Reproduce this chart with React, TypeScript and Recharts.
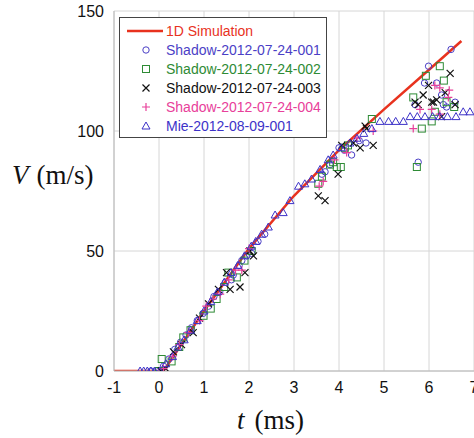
import { ComposedChart, Line, Scatter, XAxis, YAxis, CartesianGrid, Legend, Label } from 'recharts';

// 1D simulation curve
const simT = [-1, 0.1, 1, 2, 3, 4, 5, 6, 6.72];
const simV = [0, 0, 25, 51, 73, 92, 109, 125.5, 137.5];

// measured points [t (ms), V (m/s)]
const shadow001 = [
  [-0.18, 0], [-0.05, 0], [0.1, 2], [0.22, 5], [0.35, 9], [0.48, 12], [0.6, 15], [0.72, 18], [0.85, 21],
  [0.98, 24], [1.1, 27], [1.22, 31], [1.35, 33], [1.48, 37], [1.61, 38], [1.65, 40], [1.78, 44], [1.84, 46],
  [1.95, 48], [2.06, 49], [2.2, 54], [2.35, 57], [3.62, 82], [3.69, 83], [3.8, 86], [4.0, 93], [4.12, 92],
  [4.28, 90], [4.45, 96], [4.6, 95], [5.69, 111], [5.76, 87], [5.9, 120], [5.99, 127], [6.17, 120],
  [6.28, 115], [6.32, 111], [6.39, 110], [6.49, 134], [6.58, 112],
];
const shadow002 = [
  [0.0, 0], [0.06, 5], [0.28, 4], [0.45, 10], [0.54, 14], [0.7, 17], [0.99, 23], [1.15, 26], [1.28, 30],
  [1.45, 35], [1.54, 41], [1.73, 39], [1.9, 46], [2.06, 50], [3.54, 78], [3.62, 81], [3.8, 86], [3.87, 87],
  [3.95, 85], [4.04, 85], [4.13, 93], [4.2, 94], [4.73, 105], [5.65, 114], [5.73, 85], [5.84, 101],
  [5.93, 123], [6.06, 104], [6.13, 108], [6.24, 127], [6.33, 121], [6.39, 112], [6.56, 110],
];
const shadow003 = [
  [0.05, 0], [0.15, 1], [0.32, 8], [0.5, 11], [0.76, 16], [0.9, 22], [1.1, 28], [1.32, 34], [1.5, 41],
  [1.58, 34], [1.8, 35], [1.91, 41], [2.02, 50], [2.1, 48], [3.54, 73], [3.69, 71], [3.98, 82], [4.06, 94],
  [4.32, 95], [4.47, 93], [4.58, 102], [4.61, 101], [4.76, 94], [5.69, 112], [5.76, 111], [5.87, 115],
  [5.99, 119], [6.06, 112], [6.1, 112], [6.17, 113], [6.28, 106], [6.36, 116], [6.47, 124], [6.58, 111],
];
const shadow004 = [
  [0.1, 1], [0.3, 6], [0.45, 11], [0.65, 16], [0.9, 21], [1.05, 27], [1.2, 30], [1.36, 32], [1.55, 38],
  [1.7, 42], [1.84, 42], [2.0, 51], [3.56, 77], [3.65, 79], [3.9, 88], [4.17, 91], [4.4, 97], [4.76, 100],
  [5.65, 101], [5.8, 109], [6.06, 109], [6.13, 119], [6.24, 118], [6.24, 107], [6.43, 114], [6.45, 117],
];
const mie001 = [
  [-0.42, 0], [-0.34, 0], [-0.26, 0], [-0.18, 0], [-0.1, 0], [0.02, 0], [0.15, 3], [0.3, 6], [0.42, 10],
  [0.56, 13], [0.7, 17], [0.85, 21], [1.0, 25], [1.15, 29], [1.3, 33], [1.45, 37], [1.6, 41], [1.75, 44],
  [1.9, 48], [2.05, 52], [2.15, 54], [2.28, 57], [2.43, 60], [2.58, 65], [2.76, 66], [2.91, 71], [3.1, 77],
  [3.24, 78], [3.39, 80], [3.58, 84], [3.76, 88], [3.87, 90], [4.05, 93], [4.24, 95], [4.4, 97], [4.55, 99],
  [4.73, 101], [4.91, 104], [5.1, 104], [5.26, 104], [5.43, 104], [5.58, 106], [5.74, 106], [5.91, 106],
  [6.08, 106], [6.24, 106], [6.41, 106], [6.6, 106], [6.76, 108], [6.91, 108],
];

const xTicks = [-1, 0, 1, 2, 3, 4, 5, 6, 7];
const yTicks = [0, 50, 100, 150];

const toPts = (arr: number[][]) => arr.map(([t, v]) => ({ t, v }));
const simData = simT.map((t, i) => ({ t, v: simV[i] }));

const RED = '#e8321e';

const Circle = ({ cx, cy, color }: any) => <circle cx={cx} cy={cy} r={3.2} fill="none" stroke={color} strokeWidth={1} />;
const Square = ({ cx, cy, color }: any) => <rect x={cx - 3.5} y={cy - 3.5} width={7} height={7} fill="none" stroke={color} strokeWidth={1} />;
const Cross = ({ cx, cy, color }: any) => (
  <path d={`M${cx - 3.5},${cy - 3.5}L${cx + 3.5},${cy + 3.5}M${cx - 3.5},${cy + 3.5}L${cx + 3.5},${cy - 3.5}`} stroke={color} strokeWidth={1.2} />
);
const Plus = ({ cx, cy, color }: any) => (
  <path d={`M${cx - 4},${cy}L${cx + 4},${cy}M${cx},${cy - 4}L${cx},${cy + 4}`} stroke={color} strokeWidth={1.2} />
);
const Tri = ({ cx, cy, color }: any) => (
  <path d={`M${cx},${cy - 4}L${cx + 4},${cy + 3}L${cx - 4},${cy + 3}Z`} fill="none" stroke={color} strokeWidth={1} />
);

const series = [
  { name: 'Shadow-2012-07-24-001', data: shadow001, color: '#4b3fc6', Shape: Circle },
  { name: 'Shadow-2012-07-24-002', data: shadow002, color: '#2e8b35', Shape: Square },
  { name: 'Shadow-2012-07-24-003', data: shadow003, color: '#111111', Shape: Cross },
  { name: 'Shadow-2012-07-24-004', data: shadow004, color: '#e8409a', Shape: Plus },
  { name: 'Mie-2012-08-09-001', data: mie001, color: '#3d32c8', Shape: Tri },
];

const LegendBox = () => (
  <svg width={208} height={121} style={{ display: 'block' }}>
    <rect x={0.5} y={0.5} width={207} height={120} fill="#fff" stroke="#444" />
    <line x1={8} y1={14} x2={44} y2={14} stroke={RED} strokeWidth={2.5} />
    <text x={47} y={19} fontSize={14} fill={RED} fontFamily="'Liberation Sans', Arial, sans-serif">1D Simulation</text>
    {series.map((s, i) => {
      const y = 33 + i * 19;
      return (
        <g key={s.name}>
          <s.Shape cx={27} cy={y} color={s.color} />
          <text x={47} y={y + 5} fontSize={14} fill={s.color} fontFamily="'Liberation Sans', Arial, sans-serif">{s.name}</text>
        </g>
      );
    })}
  </svg>
);

const YTitle = () => (
  <text x={12} y={184} fontSize={27} fontFamily="'Liberation Serif', 'Times New Roman', serif" fill="#111">
    <tspan fontStyle="italic">V</tspan>
    <tspan dx={8}>(m/s)</tspan>
  </text>
);

const XTitle = () => (
  <text x={237} y={429} fontSize={27} fontFamily="'Liberation Serif', 'Times New Roman', serif" fill="#111">
    <tspan fontStyle="italic">t</tspan>
    <tspan dx={10}>(ms)</tspan>
  </text>
);

const tickStyle = { fontSize: 16, fill: '#111', fontFamily: "'Liberation Sans', Arial, sans-serif" };

export default function App() {
  return (
    <div style={{ position: 'absolute', left: 0, top: 0, width: 474, height: 438, overflow: 'hidden', background: '#fff' }}>
      <ComposedChart width={490} height={438} margin={{ top: 11, right: 16, bottom: 0, left: 0 }}>
        <CartesianGrid stroke="#d6d6d6" strokeWidth={1} />
        <XAxis
          type="number"
          dataKey="t"
          domain={[-1, 7]}
          ticks={xTicks}
          allowDataOverflow
          height={67}
          tickSize={0}
          tickMargin={11}
          tickLine={false}
          axisLine={{ stroke: '#b8b8b8' }}
          tick={tickStyle}
        >
          <Label content={<XTitle />} />
        </XAxis>
        <YAxis
          type="number"
          dataKey="v"
          domain={[0, 150]}
          ticks={yTicks}
          allowDataOverflow
          width={114}
          tickSize={0}
          tickMargin={10}
          tickLine={false}
          axisLine={{ stroke: '#b8b8b8' }}
          tick={tickStyle}
        >
          <Label content={<YTitle />} />
        </YAxis>
        {series.map((s) => (
          <Scatter
            key={s.name}
            name={s.name}
            data={toPts(s.data)}
            isAnimationActive={false}
            shape={(p: any) => <s.Shape cx={p.cx} cy={p.cy} color={s.color} />}
          />
        ))}
        <Line
          data={simData}
          dataKey="v"
          type="linear"
          stroke={RED}
          strokeWidth={2.5}
          dot={false}
          activeDot={false}
          isAnimationActive={false}
        />
        <Legend
          layout="horizontal"
          verticalAlign="middle"
          align="center"
          wrapperStyle={{ left: 119, top: 17, width: 208, height: 121 }}
          content={() => <LegendBox />}
        />
      </ComposedChart>
    </div>
  );
}
